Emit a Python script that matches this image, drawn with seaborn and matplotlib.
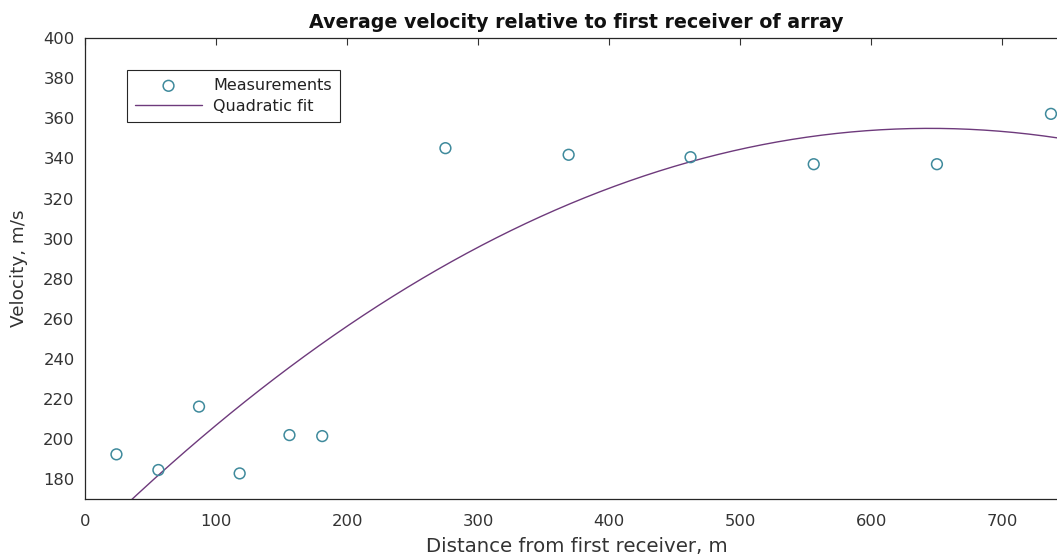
import numpy as np
import pandas as pd
import matplotlib
matplotlib.use("Agg")
import matplotlib.pyplot as plt
import seaborn as sns

# Data
distance_m = [24, 56, 87, 118, 156, 181, 275, 369, 462, 556, 650, 737]
velocity_ms = [192.5, 184.7, 216.3, 183.0, 202.1, 201.6, 345.1, 341.8, 340.6, 337.1, 337.1, 362.2]
x_ticks = [0, 100, 200, 300, 400, 500, 600, 700]
y_ticks = [180, 200, 220, 240, 260, 280, 300, 320, 340, 360, 380, 400]

sns.set_style("white")
plt.rcParams['font.family'] = ['DejaVu Sans']

df = pd.DataFrame({"x": distance_m, "y": velocity_ms})
coef = np.polyfit(df["x"], df["y"], 2)
xf = np.linspace(0, 750, 400)
fit = pd.DataFrame({"x": xf, "y": np.polyval(coef, xf)})

fig = plt.figure(figsize=(10.57, 5.57), dpi=100)
ax = fig.add_axes([85/1057, (557-498.5)/557, (1068-85)/1057, (498.5-38)/557])

sns.scatterplot(data=df, x="x", y="y", ax=ax, marker="o", s=60,
                facecolors="none", edgecolor="#3f8a9c", linewidth=1.1,
                label="Measurements", zorder=3)
sns.lineplot(data=fit, x="x", y="y", ax=ax, color="#6e3a7c", linewidth=1.0,
             label="Quadratic fit", zorder=2)

ax.set_xlim(0, 750)
ax.set_ylim(170.5, 400)
ax.set_xticks(x_ticks)
ax.set_yticks(y_ticks)
ax.tick_params(direction="in", length=5, width=0.8, top=True, right=True,
               labelsize=11.8, colors="#333333")
ax.tick_params(axis="x", pad=11)
ax.tick_params(axis="y", pad=7.5)
for s in ax.spines.values():
    s.set_color("#262626")
    s.set_linewidth(0.9)

ax.set_title("Average velocity relative to first receiver of array",
             fontsize=13.7, fontweight="bold", pad=7, color="#111111")
ax.set_xlabel("Distance from first receiver, m", fontsize=14.2, color="#333333")
ax.set_ylabel("Velocity, m/s", fontsize=13.2, color="#333333")
ax.xaxis.set_label_coords(0.5, -(537 - 498.5) / (498.5 - 38))
ax.yaxis.set_label_coords(-(85 - 28) / (1068 - 85), 0.5)

leg = ax.legend(loc="upper left", bbox_to_anchor=(127/1057, 1 - 70/557),
                bbox_transform=fig.transFigure, frameon=True, fancybox=False,
                edgecolor="#262626", framealpha=1, fontsize=11.5,
                borderpad=0.5, handlelength=4.2, handletextpad=0.7,
                labelspacing=0.35, borderaxespad=0)
leg.get_frame().set_linewidth(0.8)
for t in leg.get_texts():
    t.set_color("#222222")

fig.savefig("out.png", dpi=100)
